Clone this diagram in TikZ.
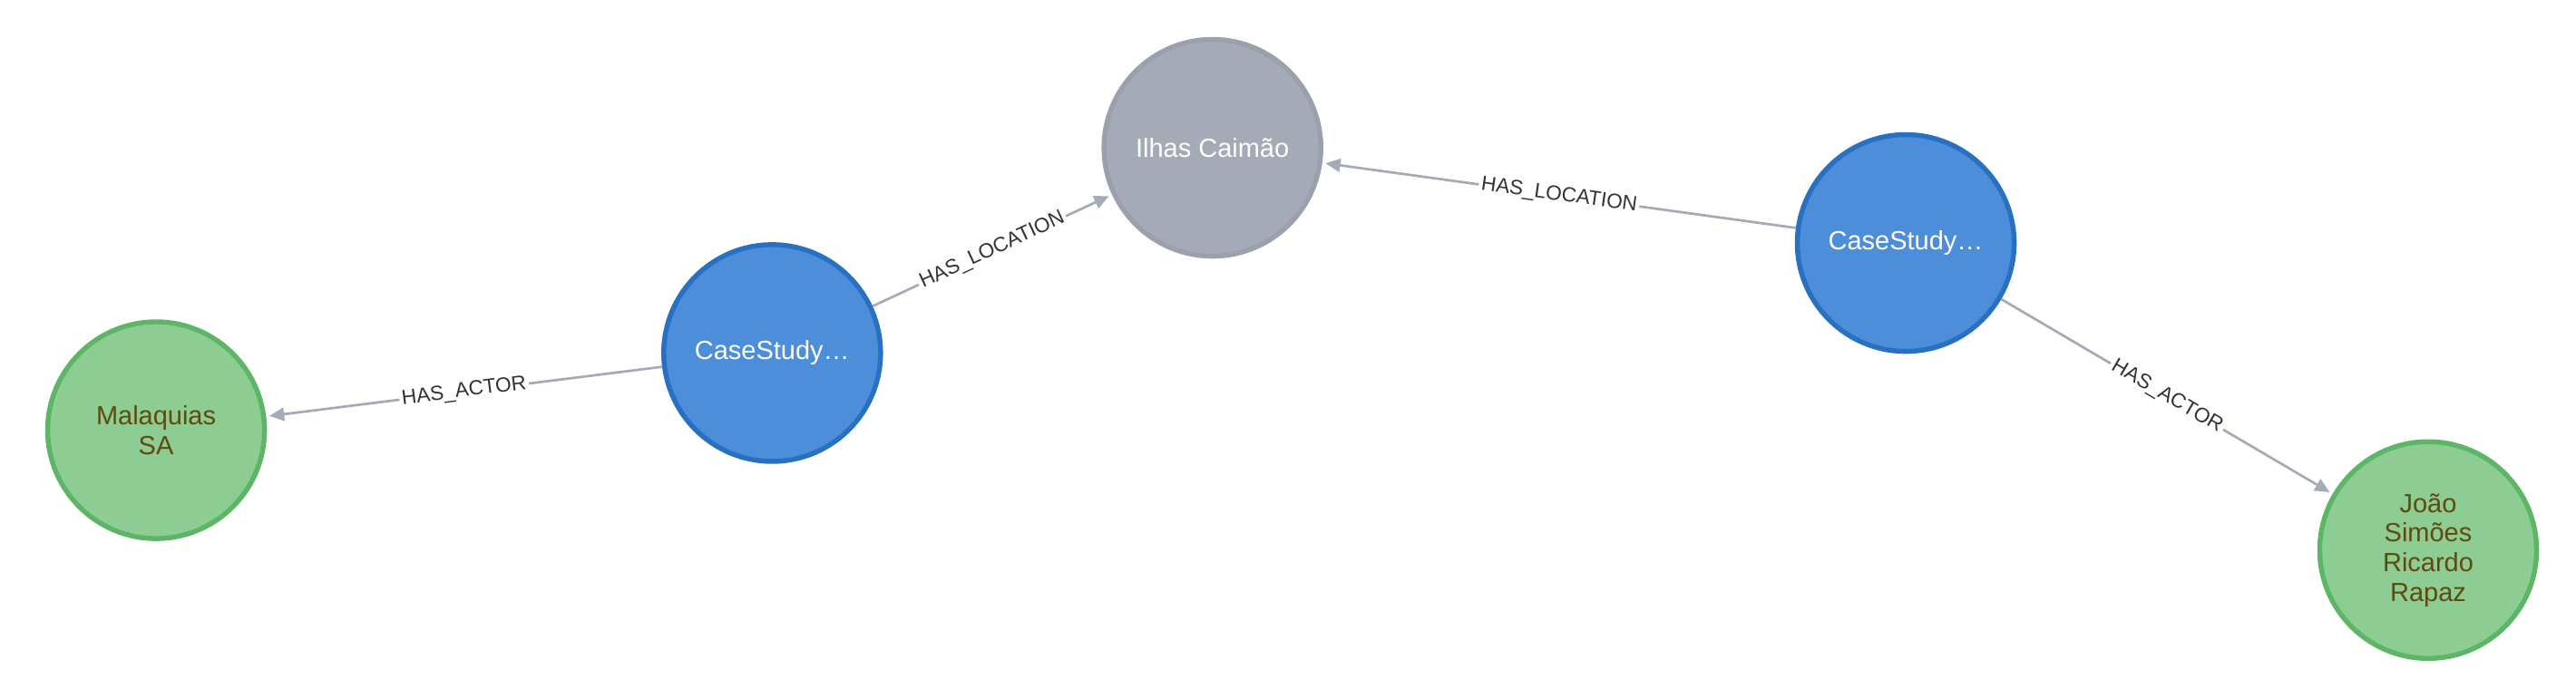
\documentclass[tikz,border=0pt]{standalone}
\usepackage{fontspec}
\setmainfont{Liberation Sans}
\definecolor{blueF}{HTML}{4C8EDA}\definecolor{blueD}{HTML}{2870C2}
\definecolor{greyF}{HTML}{A5ABB6}\definecolor{greyD}{HTML}{9AA1AC}
\definecolor{greenF}{HTML}{8DCC93}\definecolor{greenD}{HTML}{5DB665}
\definecolor{brownT}{HTML}{604A0E}\definecolor{edgeC}{HTML}{A5ABB6}
\usetikzlibrary{arrows.meta}
\begin{document}
\begin{tikzpicture}[x=1pt,y=-1pt,
 nd/.style={circle,minimum size=132pt,line width=3pt,inner sep=0pt,align=center,font=\fontsize{16}{18}\selectfont},
 bl/.style={nd,fill=blueF,draw=blueD,text=white},
 gr/.style={nd,fill=greyF,draw=greyD,text=white},
 gn/.style={nd,fill=greenF,draw=greenD,text=brownT},
 ed/.style={draw=edgeC,line width=1.5pt,-{Triangle[length=9pt,width=8pt]},shorten >=2pt},
 lb/.style={fill=white,sloped,midway,inner sep=1.5pt,font=\fontsize{12.5}{14}\selectfont,text=black!80}]
\useasboundingbox (0,0) rectangle (1568,413);
\node[gr] (ilhas) at (738,90) {Ilhas Caimão};
\node[bl] (csl) at (470,215) {CaseStudy…};
\node[gn] (mal) at (95,262) {Malaquias\\SA};
\node[bl] (csr) at (1160,148) {CaseStudy…};
\node[gn] (joao) at (1478,335) {João\\Simões\\Ricardo\\Rapaz};
\draw[ed] (csl) -- node[lb]{HAS\_LOCATION} (ilhas);
\draw[ed] (csl) -- node[lb]{HAS\_ACTOR} (mal);
\draw[ed] (csr) -- node[lb]{HAS\_LOCATION} (ilhas);
\draw[ed] (csr) -- node[lb]{HAS\_ACTOR} (joao);
\end{tikzpicture}
\end{document}
